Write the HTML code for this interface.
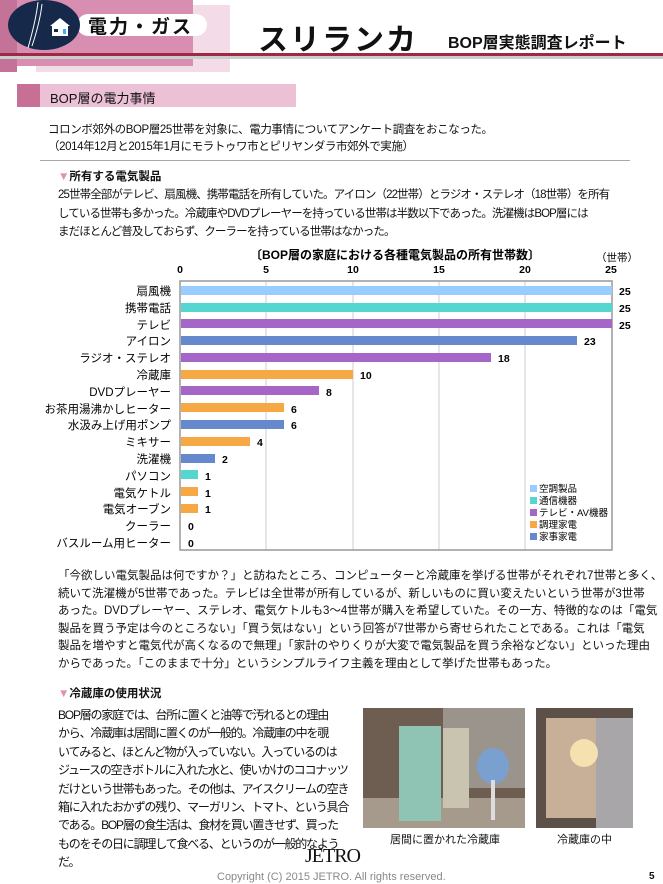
<!DOCTYPE html>
<html><head><meta charset="utf-8">
<style>
body{margin:0;background:#fff;}
#p{position:relative;width:663px;height:884px;overflow:hidden;font-family:"Liberation Sans","Noto Sans CJK JP",sans-serif;color:#111;}
.a{position:absolute;white-space:nowrap;}
.t{font-size:11.5px;line-height:17.5px;}
</style></head><body><div id="p">
<!-- header -->
<div class="a" style="left:36px;top:5px;width:194px;height:67px;background:#f3dbe7"></div>
<div class="a" style="left:0;top:0;width:17px;height:72px;background:#c47398"></div>
<div class="a" style="left:17px;top:0;width:176px;height:66px;background:#d78eb0"></div>
<div class="a" style="left:77px;top:14px;width:130px;height:22px;background:#fff;border-radius:11px"></div>
<div class="a" style="left:8px;top:0;width:72px;height:50px;background:#16294a;border-radius:50%"></div>
<svg class="a" style="left:8px;top:0" width="72" height="50"><path d="M20 48 Q28 20 30 2 M24 46 Q32 22 34 4" stroke="#fff" fill="none" stroke-width="1"/><polygon points="42,26 52,18 62,26" fill="#fff"/><rect x="44" y="26" width="16" height="10" fill="#fff"/><rect x="46" y="29" width="4" height="3" fill="#16294a"/><rect x="55" y="29" width="3" height="5" fill="#4af"/></svg>
<div class="a" style="left:88px;top:12px;font-size:19px;font-weight:bold;letter-spacing:2px">電力・ガス</div>
<div class="a" style="left:0;top:53px;width:663px;height:3px;background:#9c2a45"></div>
<div class="a" style="left:0;top:56px;width:663px;height:3px;background:#ccc"></div>
<div class="a" style="left:258px;top:15px;font-size:30px;font-weight:bold;letter-spacing:2px">スリランカ</div>
<div class="a" style="left:448px;top:29px;font-size:16px;font-weight:bold">BOP層実態調査レポート</div>
<!-- section bar -->
<div class="a" style="left:17px;top:84px;width:279px;height:23px;background:#ecc0d5"></div>
<div class="a" style="left:17px;top:84px;width:23px;height:23px;background:#c86f96"></div>
<div class="a" style="left:50px;top:88px;font-size:13px">BOP層の電力事情</div>
<div class="a t" style="left:48px;top:122px;letter-spacing:-0.4px">コロンボ郊外のBOP層25世帯を対象に、電力事情についてアンケート調査をおこなった。</div>
<div class="a t" style="left:48px;top:139px;letter-spacing:-0.4px">（2014年12月と2015年1月にモラトゥワ市とピリヤンダラ市郊外で実施）</div>
<div class="a" style="left:40px;top:160px;width:590px;height:1px;background:#aaa"></div>
<div class="a t" style="left:58px;top:169px;font-weight:bold"><span style="color:#e090b0">▼</span>所有する電気製品</div>
<div class="a t" style="left:58px;top:186px;line-height:18.5px;letter-spacing:-0.9px">25世帯全部がテレビ、扇風機、携帯電話を所有していた。アイロン（22世帯）とラジオ・ステレオ（18世帯）を所有<br>している世帯も多かった。冷蔵庫やDVDプレーヤーを持っている世帯は半数以下であった。洗濯機はBOP層には<br>まだほとんど普及しておらず、クーラーを持っている世帯はなかった。</div>
<!-- chart -->
<svg class="a" style="left:0;top:0" width="663" height="560" font-family="Liberation Sans, Noto Sans CJK JP, sans-serif">
<text x="395" y="259" font-size="12" font-weight="bold" text-anchor="middle">〔BOP層の家庭における各種電気製品の所有世帯数〕</text>
<text x="596" y="261" font-size="10.5">（世帯）</text>
<g font-size="10.5" font-weight="bold" text-anchor="middle">
<text x="180" y="273">0</text><text x="266" y="273">5</text><text x="353" y="273">10</text><text x="439" y="273">15</text><text x="525" y="273">20</text><text x="611" y="273">25</text></g>
<g stroke="#ccc" stroke-width="1"><line x1="266" y1="281" x2="266" y2="550"/><line x1="353" y1="281" x2="353" y2="550"/><line x1="439" y1="281" x2="439" y2="550"/><line x1="525" y1="281" x2="525" y2="550"/></g>
<rect x="180" y="281" width="432" height="269" fill="none" stroke="#999" stroke-width="1.5"/>
<g font-size="11.5" text-anchor="end">
<text x="171" y="295">扇風機</text><text x="171" y="312">携帯電話</text><text x="171" y="329">テレビ</text><text x="171" y="345">アイロン</text><text x="171" y="362">ラジオ・ステレオ</text><text x="171" y="379">冷蔵庫</text><text x="171" y="396">DVDプレーヤー</text><text x="171" y="413">お茶用湯沸かしヒーター</text><text x="171" y="429">水汲み上げ用ポンプ</text><text x="171" y="446">ミキサー</text><text x="171" y="463">洗濯機</text><text x="171" y="480">パソコン</text><text x="171" y="497">電気ケトル</text><text x="171" y="513">電気オーブン</text><text x="171" y="530">クーラー</text><text x="171" y="547">バスルーム用ヒーター</text></g>
<g>
<rect x="181" y="286" width="431" height="9" fill="#99ccff"/>
<rect x="181" y="303" width="431" height="9" fill="#55d6d0"/>
<rect x="181" y="319" width="431" height="9" fill="#a666c8"/>
<rect x="181" y="336" width="396" height="9" fill="#6688cc"/>
<rect x="181" y="353" width="310" height="9" fill="#a666c8"/>
<rect x="181" y="370" width="172" height="9" fill="#f5a843"/>
<rect x="181" y="386" width="138" height="9" fill="#a666c8"/>
<rect x="181" y="403" width="103" height="9" fill="#f5a843"/>
<rect x="181" y="420" width="103" height="9" fill="#6688cc"/>
<rect x="181" y="437" width="69" height="9" fill="#f5a843"/>
<rect x="181" y="454" width="34" height="9" fill="#6688cc"/>
<rect x="181" y="470" width="17" height="9" fill="#55d6d0"/>
<rect x="181" y="487" width="17" height="9" fill="#f5a843"/>
<rect x="181" y="504" width="17" height="9" fill="#f5a843"/>
</g>
<g font-size="10.5" font-weight="bold">
<text x="619" y="295">25</text><text x="619" y="312">25</text><text x="619" y="329">25</text><text x="584" y="345">23</text><text x="498" y="362">18</text><text x="360" y="379">10</text><text x="326" y="396">8</text><text x="291" y="413">6</text><text x="291" y="429">6</text><text x="257" y="446">4</text><text x="222" y="463">2</text><text x="205" y="480">1</text><text x="205" y="497">1</text><text x="205" y="513">1</text><text x="188" y="530">0</text><text x="188" y="547">0</text></g>
<g font-size="9.5">
<rect x="530" y="485" width="7" height="7" fill="#99ccff"/><text x="539" y="492">空調製品</text>
<rect x="530" y="497" width="7" height="7" fill="#55d6d0"/><text x="539" y="504">通信機器</text>
<rect x="530" y="509" width="7" height="7" fill="#a666c8"/><text x="539" y="516">テレビ・AV機器</text>
<rect x="530" y="521" width="7" height="7" fill="#f5a843"/><text x="539" y="528">調理家電</text>
<rect x="530" y="533" width="7" height="7" fill="#6688cc"/><text x="539" y="540">家事家電</text></g>
</svg>
<div class="a t" style="left:58px;top:568px;line-height:17.5px">「今欲しい電気製品は何ですか？」と訪ねたところ、コンピューターと冷蔵庫を挙げる世帯がそれぞれ7世帯と多く、<br>続いて洗濯機が5世帯であった。テレビは全世帯が所有しているが、新しいものに買い変えたいという世帯が3世帯<br>あった。DVDプレーヤー、ステレオ、電気ケトルも3～4世帯が購入を希望していた。その一方、特徴的なのは「電気<br>製品を買う予定は今のところない」「買う気はない」という回答が7世帯から寄せられたことである。これは「電気<br>製品を増やすと電気代が高くなるので無理」「家計のやりくりが大変で電気製品を買う余裕などない」といった理由<br>からであった。「このままで十分」というシンプルライフ主義を理由として挙げた世帯もあった。</div>
<div class="a t" style="left:58px;top:686px;font-weight:bold"><span style="color:#e090b0">▼</span>冷蔵庫の使用状況</div>
<div class="a" style="left:58px;top:706px;font-size:12px;line-height:18.4px;letter-spacing:-1.2px">BOP層の家庭では、台所に置くと油等で汚れるとの理由<br>から、冷蔵庫は居間に置くのが一般的。冷蔵庫の中を覗<br>いてみると、ほとんど物が入っていない。入っているのは<br>ジュースの空きボトルに入れた水と、使いかけのココナッツ<br>だけという世帯もあった。その他は、アイスクリームの空き<br>箱に入れたおかずの残り、マーガリン、トマト、という具合<br>である。BOP層の食生活は、食材を買い置きせず、買った<br>ものをその日に調理して食べる、というのが一般的なよう<br>だ。</div>
<!-- photos -->
<svg class="a" style="left:363px;top:708px" width="162" height="120"><rect width="162" height="120" fill="#6e5e52"/><rect x="80" width="82" height="80" fill="#9a948c"/><rect y="90" width="162" height="30" fill="#a59a8c"/><rect x="36" y="18" width="42" height="95" fill="#8fc4b4"/><rect x="80" y="20" width="26" height="80" fill="#c8c4b0"/><ellipse cx="130" cy="58" rx="16" ry="18" fill="#7aa0d0"/><rect x="128" y="72" width="4" height="40" fill="#ddd"/></svg>
<svg class="a" style="left:536px;top:708px" width="97" height="120"><rect width="97" height="120" fill="#5d5048"/><rect x="10" y="10" width="55" height="100" fill="#c8b098"/><rect x="60" y="10" width="37" height="110" fill="#a8a6a8"/><circle cx="48" cy="45" r="14" fill="#f5e0b0"/></svg>
<div class="a" style="left:390px;top:831px;font-size:11px">居間に置かれた冷蔵庫</div>
<div class="a" style="left:557px;top:831px;font-size:11px">冷蔵庫の中</div>
<div class="a" style="left:305px;top:845px;font-family:'Liberation Serif',serif;font-size:20px;letter-spacing:-1px">JETRO</div>
<div class="a" style="left:217px;top:871px;font-size:11px;color:#888">Copyright (C) 2015 JETRO. All rights reserved.</div>
<div class="a" style="left:649px;top:871px;font-size:10px;font-weight:bold">5</div>
</div></body></html>
